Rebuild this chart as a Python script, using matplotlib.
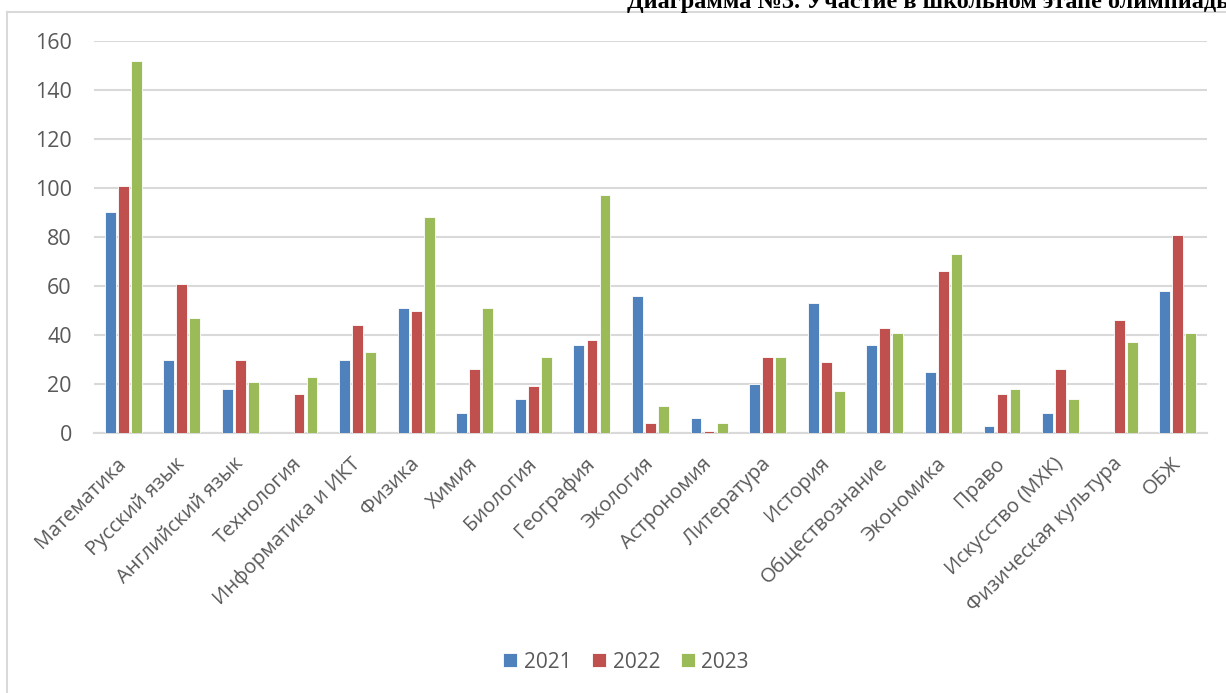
import matplotlib
matplotlib.use("Agg")
import matplotlib.pyplot as plt
import numpy as np
from matplotlib.lines import Line2D

categories = ["Математика", "Русский язык", "Английский язык", "Технология",
              "Информатика и ИКТ", "Физика", "Химия", "Биология", "География",
              "Экология", "Астрономия", "Литература", "История", "Обществознание",
              "Экономика", "Право", "Искусство (МХК)", "Физическая культура", "ОБЖ"]
years = ["2021", "2022", "2023"]
v2021 = [90, 30, 18, 0, 30, 51, 8, 14, 36, 56, 6, 20, 53, 36, 25, 3, 8, 0, 58]
v2022 = [101, 61, 30, 16, 44, 50, 26, 19, 38, 4, 1, 31, 29, 43, 66, 16, 26, 46, 81]
v2023 = [152, 47, 21, 23, 33, 88, 51, 31, 97, 11, 4, 31, 17, 41, 73, 18, 14, 37, 41]
yticks = [0, 20, 40, 60, 80, 100, 120, 140, 160]
title = "Диаграмма №3. Участие в школьном этапе олимпиады"

colors = ["#4F81BD", "#C0504D", "#9BBB59"]
W, H = 1226, 693
fig = plt.figure(figsize=(W / 100, H / 100), dpi=100)
plt.rcParams['font.family'] = ['Open Sans', 'DejaVu Sans']

ax = fig.add_axes([94 / W, 1 - 433 / H, (1207 - 94) / W, (433 - 41) / H])
x = np.arange(len(categories))
series = [v2021, v2022, v2023]
bw = 0.185
off = 0.222
for i, (vals, c, lab) in enumerate(zip(series, colors, years)):
    ax.bar(x + (i - 1) * off, vals, width=bw, color=c, label=lab,
           edgecolor="white", linewidth=0.6, zorder=3)

ax.set_xlim(-0.5, len(categories) - 0.5)
ax.set_ylim(0, 160)
ax.set_yticks(yticks)
ax.yaxis.grid(True, color="#d9d9d9", linewidth=1.5, zorder=0)
ax.set_axisbelow(True)
for s in ["top", "right", "left"]:
    ax.spines[s].set_visible(False)
ax.spines["bottom"].set_color("#d9d9d9")
ax.spines["bottom"].set_linewidth(1.5)
ax.tick_params(axis="y", length=0, pad=16, labelsize=15.5, labelcolor="#595959")
ax.tick_params(axis="x", length=0, pad=20, labelsize=14.5, labelcolor="#595959")
ax.set_xticks(x)
ax.set_xticklabels(categories, rotation=45, ha="right", va="center",
                   rotation_mode="anchor")

leg = fig.legend(loc="center", bbox_to_anchor=(626 / W, 1 - 662 / H), ncol=3,
                 frameon=False, fontsize=15, handlelength=0.68, handleheight=0.68,
                 handletextpad=0.3, columnspacing=1.0, labelcolor="#595959")

# chart area border
fig.add_artist(Line2D([7 / W, 7 / W], [0, 1 - 12 / H], transform=fig.transFigure,
                      color="#d9d9d9", linewidth=1.5))
fig.add_artist(Line2D([7 / W, 1], [1 - 12 / H, 1 - 12 / H], transform=fig.transFigure,
                      color="#d9d9d9", linewidth=1.5))

fig.text(627 / W, 1 - 8 / H, title, fontsize=17.5, fontweight="bold",
         family=["Liberation Serif", "DejaVu Serif"], ha="left", va="baseline",
         color="black")

fig.savefig("out.png", dpi=100)
